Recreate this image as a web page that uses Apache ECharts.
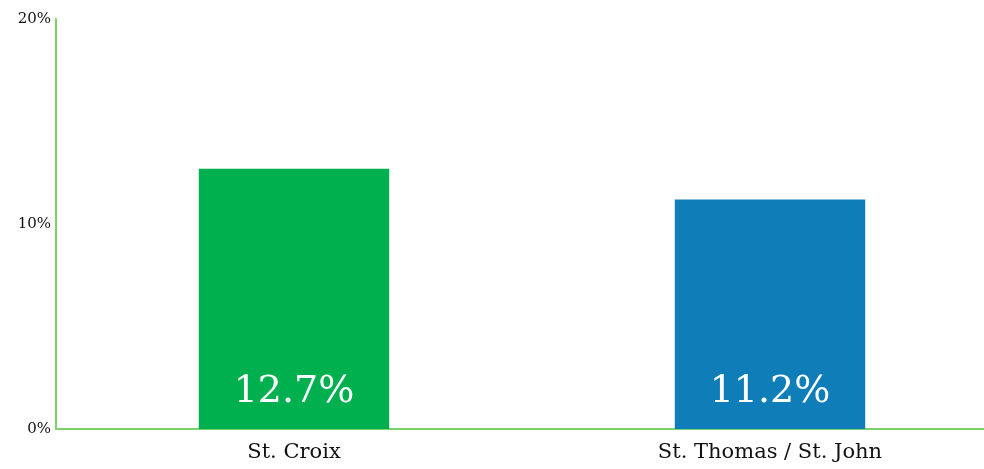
<!DOCTYPE html>
<html>
<head>
<meta charset="utf-8">
<script src="https://cdn.jsdelivr.net/npm/echarts@6/dist/echarts.min.js"></script>
<style>html,body{margin:0;padding:0;background:#fff;overflow:hidden;width:984px;height:469px}#c{width:1008px;height:469px}</style>
</head>
<body>
<div id="c"></div>
<script>
const categories = ["St. Croix", "St. Thomas / St. John"];
const values = [12.7, 11.2];
const barColors = ["#00b04f", "#0f7db8"];
const yTicks = [0, 10, 20];

const chart = echarts.init(document.getElementById('c'));
chart.setOption({
  animation: false,
  grid: {left: 56, top: 19, right: 0, bottom: 40, containLabel: false},
  xAxis: {
    type: 'category',
    data: categories,
    axisLine: {lineStyle: {color: '#7fcf6a', width: 2}},
    axisTick: {show: false},
    axisLabel: {color: '#111', fontFamily: 'DejaVu Serif', fontSize: 21, margin: 13}
  },
  yAxis: {
    type: 'value',
    min: yTicks[0], max: yTicks[yTicks.length - 1], interval: 10,
    axisLine: {show: true, lineStyle: {color: '#7fcf6a', width: 2}},
    axisTick: {show: false},
    splitLine: {show: false},
    axisLabel: {color: '#111', fontFamily: 'DejaVu Serif', fontSize: 15, margin: 5,
      formatter: v => v + '%'}
  },
  series: [{
    type: 'bar',
    barWidth: '40%',
    data: values.map((v, i) => ({value: v, itemStyle: {color: barColors[i]}})),
    label: {
      show: true, position: 'insideBottom', distance: 18,
      color: '#fff', fontFamily: 'DejaVu Serif', fontSize: 38,
      formatter: p => p.value.toFixed(1) + '%'
    }
  }]
});
</script>
</body>
</html>
